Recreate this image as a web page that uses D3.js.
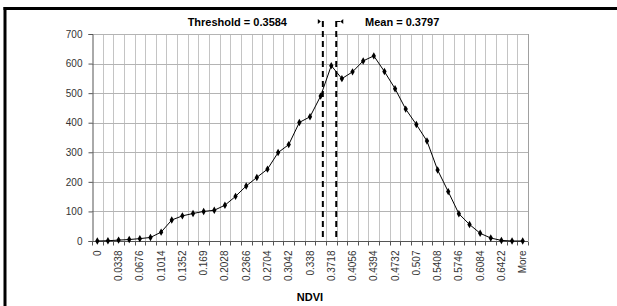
<!DOCTYPE html>
<html>
<head>
<meta charset="utf-8">
<script src="https://cdn.jsdelivr.net/npm/d3@7"></script>
<style>
  html, body { margin: 0; padding: 0; background: #fff; }
  svg { display: block; font-family: "Liberation Sans", Arial, sans-serif; }
</style>
</head>
<body>
<div id="chart"></div>
<script>
// histogram bins (upper edge), last bin is "More"
const binStep = 0.0169;
const binLabels = d3.range(40).map(i => String(+(i * binStep).toFixed(4))).concat(['More']);
const counts = [0, 1, 3, 5, 8, 12, 30, 71, 85, 93, 100, 104, 121, 151, 186, 215, 243, 299, 326, 401,
                420, 490, 593, 549, 572, 609, 626, 573, 515, 446, 394, 338, 240, 167, 92, 56, 26, 10, 2, 0, 0];
const yTicks = [0, 100, 200, 300, 400, 500, 600, 700];
const markers = [
  { name: 'Threshold', value: 0.3584 },
  { name: 'Mean', value: 0.3797 }
];

const W = 617, H = 306;
const margin = { top: 34, right: 89, bottom: 65, left: 92 };
const width = W - margin.left - margin.right;
const height = H - margin.top - margin.bottom;

const svg = d3.select('#chart').append('svg')
  .attr('width', W)
  .attr('height', H);

// frame (top + left only)
svg.append('rect').attr('x', 3.5).attr('y', 7).attr('width', W - 3.5).attr('height', 3).attr('fill', '#000');
svg.append('rect').attr('x', 3.5).attr('y', 7).attr('width', 3).attr('height', H - 7).attr('fill', '#000');

const g = svg.append('g').attr('transform', `translate(${margin.left},${margin.top})`);

const x = d3.scaleBand().domain(binLabels).range([0, width]).padding(0);
const y = d3.scaleLinear().domain([0, 700]).range([height, 0]);
// continuous version of x for threshold / mean lines
const xv = d3.scaleLinear()
  .domain([0, 39 * binStep])
  .range([x(binLabels[0]) + x.bandwidth() / 2, x(binLabels[39]) + x.bandwidth() / 2]);

// vertical gridlines at bin boundaries
g.append('g')
  .selectAll('line')
  .data(binLabels.slice(1))
  .enter().append('line')
  .attr('x1', d => Math.round(x(d)) + 0.5)
  .attr('x2', d => Math.round(x(d)) + 0.5)
  .attr('y1', 0)
  .attr('y2', height)
  .attr('stroke', '#c4c4c4')
  .attr('stroke-width', 1);

// horizontal gridlines
g.append('g')
  .selectAll('line')
  .data(yTicks.slice(1))
  .enter().append('line')
  .attr('x1', 0)
  .attr('x2', width)
  .attr('y1', d => Math.round(y(d)) + 0.5)
  .attr('y2', d => Math.round(y(d)) + 0.5)
  .attr('stroke', '#b4b4b4')
  .attr('stroke-width', 1);

// plot area right border
g.append('line')
  .attr('x1', Math.round(width) + 0.5).attr('x2', Math.round(width) + 0.5)
  .attr('y1', 0).attr('y2', height)
  .attr('stroke', '#a0a0a0');

// y axis
const yAxis = g.append('g')
  .attr('transform', 'translate(0.5,0)')
  .call(d3.axisLeft(y).tickValues(yTicks).tickSize(4).tickPadding(6));
yAxis.select('.domain').attr('stroke', '#555');
yAxis.selectAll('line').attr('stroke', '#555');
yAxis.selectAll('text')
  .style('font-size', '10px')
  .style('fill', '#333');

// x axis: ticks at bin boundaries, labels every other bin
const xAxisG = g.append('g').attr('transform', `translate(0,${Math.round(height) + 0.5})`);
xAxisG.append('line')
  .attr('x1', 0).attr('x2', width)
  .attr('stroke', '#555');
xAxisG.selectAll('.tk')
  .data(binLabels.concat(['__end']))
  .enter().append('line')
  .attr('class', 'tk')
  .attr('x1', d => Math.round(d === '__end' ? width : x(d)) + 0.5)
  .attr('x2', d => Math.round(d === '__end' ? width : x(d)) + 0.5)
  .attr('y1', 0).attr('y2', 4)
  .attr('stroke', '#555');
xAxisG.selectAll('.lbl')
  .data(binLabels.filter((d, i) => i % 2 === 0))
  .enter().append('text')
  .attr('class', 'lbl')
  .attr('transform', d => `translate(${x(d) + x.bandwidth() / 2 + 3.5},9) rotate(-90)`)
  .attr('text-anchor', 'end')
  .style('font-size', '10px')
  .style('fill', '#333')
  .text(d => d);

// threshold / mean dashed lines
g.selectAll('.marker')
  .data(markers)
  .enter().append('line')
  .attr('class', 'marker')
  .attr('x1', d => xv(d.value))
  .attr('x2', d => xv(d.value))
  .attr('y1', -13)
  .attr('y2', height)
  .attr('stroke', '#000')
  .attr('stroke-width', 2)
  .attr('stroke-dasharray', '6,4');

// little pointers at top of the dashed lines
const thX = xv(markers[0].value), mnX = xv(markers[1].value);
g.append('path')
  .attr('d', `M${thX - 5},${-15} L${thX - 2},${-12.5} L${thX - 5},${-10} Z`)
  .attr('fill', '#000');
g.append('path')
  .attr('d', `M${mnX},${-12.5} L${mnX + 4},${-12.5}`)
  .attr('stroke', '#000').attr('stroke-width', 1);
g.append('path')
  .attr('d', `M${mnX + 7},${-15} L${mnX + 4},${-12.5} L${mnX + 7},${-10} Z`)
  .attr('fill', '#000');

// labels
svg.append('text')
  .attr('x', 287).attr('y', 26)
  .attr('text-anchor', 'end')
  .style('font-size', '11px').style('font-weight', 'bold')
  .text(`Threshold = ${markers[0].value.toFixed(4)}`);
svg.append('text')
  .attr('x', 365).attr('y', 26)
  .attr('text-anchor', 'start')
  .style('font-size', '11px').style('font-weight', 'bold')
  .text(`Mean = ${markers[1].value.toFixed(4)}`);

// series line
const series = binLabels.map((b, i) => ({ bin: b, count: counts[i] }));
const line = d3.line()
  .x(d => x(d.bin) + x.bandwidth() / 2)
  .y(d => y(d.count));
g.append('path')
  .datum(series)
  .attr('fill', 'none')
  .attr('stroke', '#000')
  .attr('stroke-width', 1)
  .attr('d', line);

g.selectAll('.pt')
  .data(series)
  .enter().append('path')
  .attr('class', 'pt')
  .attr('transform', d => `translate(${x(d.bin) + x.bandwidth() / 2},${y(d.count)})`)
  .attr('d', d3.symbol().type(d3.symbolDiamond).size(16))
  .attr('fill', '#000');

// x axis title
svg.append('text')
  .attr('x', margin.left + width / 2)
  .attr('y', 301)
  .attr('text-anchor', 'middle')
  .style('font-size', '11px').style('font-weight', 'bold')
  .text('NDVI');
</script>
</body>
</html>
